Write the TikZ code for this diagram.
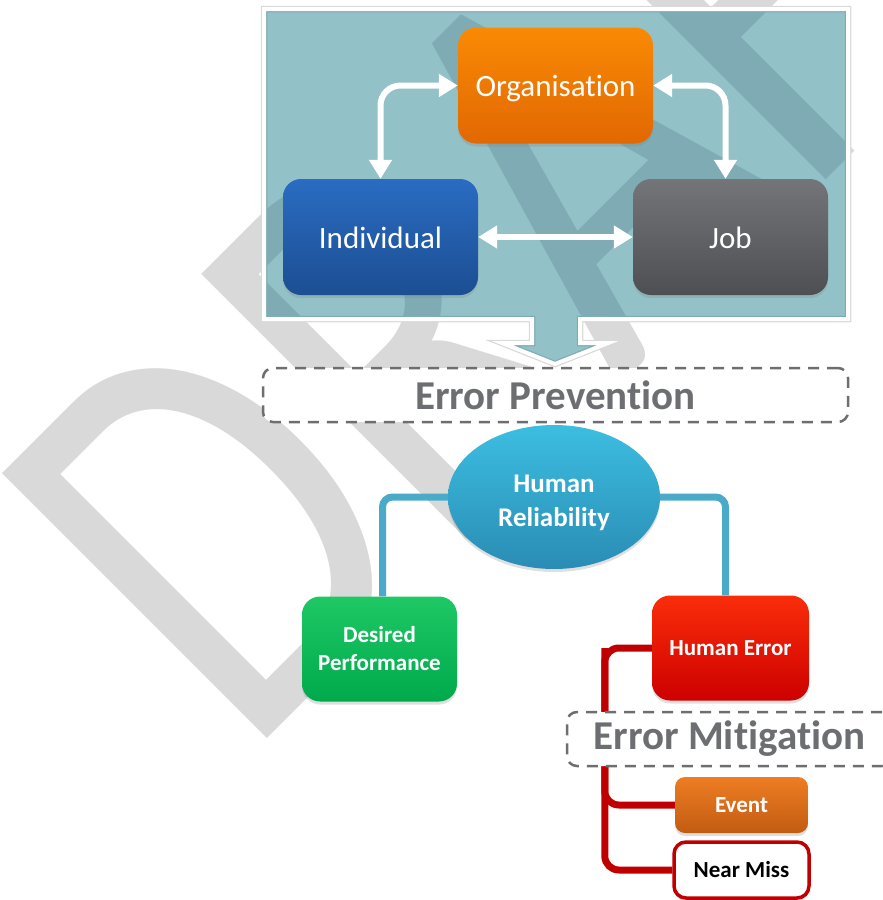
\documentclass[tikz,border=0pt]{standalone}
\usepackage{fontspec}
\setmainfont{Carlito}[Ligatures=NoCommon]
\usepackage{tikz}
\usetikzlibrary{arrows.meta}
\usetikzlibrary{shapes.geometric}
\usetikzlibrary{shadows}
\definecolor{panelTeal}{RGB}{30,125,140}
\definecolor{linkTeal}{RGB}{75,170,200}
\definecolor{linkRed}{RGB}{192,0,0}
\definecolor{labelGray}{RGB}{109,110,113}
\definecolor{wmGray}{RGB}{217,217,217}
\tikzset{
  box/.style={rectangle, rounded corners=18pt, inner sep=0pt, align=center, text=white,
    drop shadow={opacity=0.25, shadow xshift=0pt, shadow yshift=-3pt}},
  boxBig/.style={box, minimum width=195pt, minimum height=116pt, text height=22pt, text depth=0pt,
    font=\fontsize{31}{37}\selectfont},
  boxSmall/.style={box, font=\bfseries\fontsize{23}{28}\selectfont},
  dashBox/.style={rectangle, rounded corners=10pt, draw=labelGray, fill=white, line width=2.5pt,
    dash pattern=on 11pt off 8pt, text=labelGray, font=\bfseries\fontsize{41}{48}\selectfont},
  whArrow/.style={draw=white, line width=6pt, rounded corners=20pt,
    {Triangle[width=22pt,length=19pt]}-{Triangle[width=22pt,length=19pt]}},
  tealLine/.style={draw=linkTeal, line width=7pt, rounded corners=10pt},
  redLine/.style={draw=linkRed, line width=7pt, rounded corners=14pt}
}
\begin{document}
\begin{tikzpicture}[x=1pt,y=-1pt]
    \useasboundingbox (0,0) rectangle (883,900);
    \clip (0,0) rectangle (883,900);
    % watermark
    \node[rotate=45, xscale=0.78, anchor=base west, inner sep=0pt, text=wmGray,
      font=\fontsize{584}{600}\selectfont] (wm) at (245,761) {DRAFT};
    % panel
    \path[fill=panelTeal, fill opacity=0.48, draw=white, line width=4pt, line join=miter,
      preaction={draw=black!15, line width=6.5pt}]
      (264,9) -- (848,9) -- (848,319) -- (580,319) -- (580,343) -- (608,343) -- (555,364)
      -- (502,343) -- (532,343) -- (532,319) -- (264,319) -- cycle;
    \node[boxBig, top color={rgb,255:red,249;green,138;blue,4}, bottom color={rgb,255:red,226;green,104;blue,2}]
      (org) at (555.5,85.5) {Organisation};
    \node[boxBig, top color={rgb,255:red,42;green,108;blue,194}, bottom color={rgb,255:red,28;green,78;blue,146}]
      (ind) at (380.5,237) {Individual};
    \node[boxBig, top color={rgb,255:red,116;green,117;blue,121}, bottom color={rgb,255:red,78;green,79;blue,83}]
      (job) at (730.5,237) {Job};
    \draw[whArrow] (org.west) -| (ind.north);
    \draw[whArrow] (org.east) -| ([xshift=-5pt]job.north);
    \draw[whArrow] (ind.east) -- (job.west);
    % prevention
    \node[dashBox, minimum width=585pt, minimum height=54pt] (ep) at (555.5,395) {Error Prevention};
    \node[ellipse, inner sep=0pt, minimum width=212pt, minimum height=144pt, align=center, text=white,
      top color={rgb,255:red,60;green,190;blue,225}, bottom color={rgb,255:red,42;green,140;blue,180},
      drop shadow={opacity=0.25, shadow xshift=0pt, shadow yshift=-3pt},
      font=\bfseries\fontsize{27}{34}\selectfont] (hr) at (554,497) {\rule{0pt}{30pt}Human\\Reliability};
    \node[boxSmall, minimum width=155pt, minimum height=105pt,
      top color={rgb,255:red,30;green,200;blue,100}, bottom color={rgb,255:red,0;green,170;blue,76}]
      (dp) at (379.5,649) {Desired\\Performance};
    \node[boxSmall, minimum width=157pt, minimum height=105pt,
      top color={rgb,255:red,250;green,45;blue,10}, bottom color={rgb,255:red,205;green,0;blue,0}]
      (he) at (730.5,648) {Human Error};
    \draw[tealLine] (hr.west) -| ([xshift=3pt]dp.north);
    \draw[tealLine] (hr.east) -| ([xshift=-5pt]he.north);
    % mitigation
    \node[boxSmall, rounded corners=10pt, minimum width=133pt, minimum height=56pt,
      top color={rgb,255:red,238;green,125;blue,35}, bottom color={rgb,255:red,194;green,92;blue,18}]
      (ev) at (741.5,805) {Event};
    \node[boxSmall, rounded corners=12pt, minimum width=135pt, minimum height=56pt,
      fill=white, draw=linkRed, line width=3.5pt, text=black] (nm) at (741.5,870) {Near Miss};
    \coordinate (trunk) at ([xshift=-47pt]he.west);
    \draw[redLine] (he.west) -- (trunk) |- (nm.west);
    \draw[redLine] (trunk) |- (ev.west);
    \node[dashBox, minimum width=325pt, minimum height=54pt] (em) at (729.5,739) {Error Mitigation};
\end{tikzpicture}
\end{document}
